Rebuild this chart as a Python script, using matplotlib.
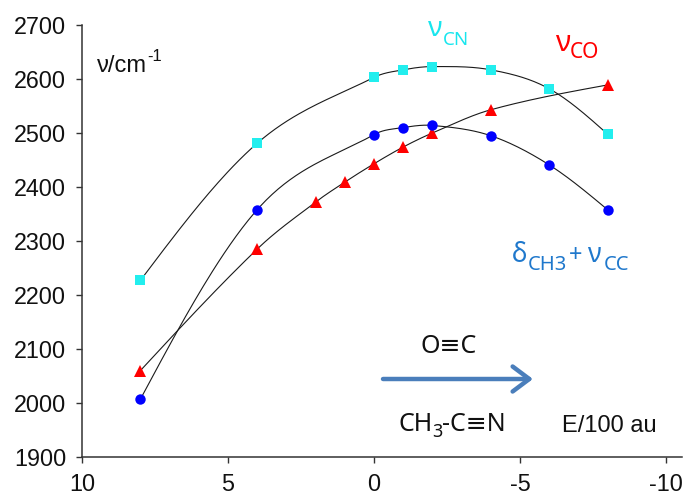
import numpy as np
import matplotlib
matplotlib.use("Agg")
import matplotlib.pyplot as plt

plt.rcParams['axes.unicode_minus'] = False

# Hodnoty odcitane z grafu (E/100 au, frekvencia v cm-1)
e_cn = [8, 4, 0, -1, -2, -4, -6, -8]
nu_cn = [2227, 2481, 2603, 2617, 2623, 2617, 2582, 2498]

e_co = [8, 4, 2, 1, 0, -1, -2, -4, -8]
nu_co = [2060, 2285, 2372, 2409, 2443, 2474, 2500, 2543, 2589]

e_cc = [8, 4, 0, -1, -2, -4, -6, -8]
nu_cc = [2007, 2358, 2497, 2510, 2514, 2495, 2441, 2358]

x_ticks = [10, 5, 0, -5, -10]
y_ticks = [1900, 2000, 2100, 2200, 2300, 2400, 2500, 2600, 2700]

W, H = 683, 497
ARIAL = ['Liberation Sans', 'DejaVu Sans']
CALIBRI = ['Noto Sans', 'DejaVu Sans']


# Hladka krivka cez body (Hermite, sklony z susednych bodov)
def hladka(xs, ys, n=40):
    x = np.asarray(xs, float)
    y = np.asarray(ys, float)
    m = np.empty_like(y)
    m[1:-1] = (y[2:] - y[:-2]) / (x[2:] - x[:-2])
    m[0] = (y[1] - y[0]) / (x[1] - x[0])
    m[-1] = (y[-1] - y[-2]) / (x[-1] - x[-2])
    # koncove sklony trochu ohnute ako pri Exceli
    m[0] = 1.5 * m[0] - 0.5 * m[1]
    m[-1] = 1.5 * m[-1] - 0.5 * m[-2]
    px, py = [], []
    for i in range(len(x) - 1):
        h = x[i + 1] - x[i]
        t = np.linspace(0, 1, n)
        h00 = 2 * t ** 3 - 3 * t ** 2 + 1
        h10 = t ** 3 - 2 * t ** 2 + t
        h01 = -2 * t ** 3 + 3 * t ** 2
        h11 = t ** 3 - t ** 2
        yy = h00 * y[i] + h10 * h * m[i] + h01 * y[i + 1] + h11 * h * m[i + 1]
        px.append(x[i] + t * h)
        py.append(yy)
    return np.concatenate(px), np.concatenate(py)


fig = plt.figure(figsize=(W / 100, H / 100), dpi=100)
ax = fig.add_axes([82 / W, 40 / H, 600 / W, 432 / H])

for xs, ys in [(e_cn, nu_cn), (e_co, nu_co), (e_cc, nu_cc)]:
    sx, sy = hladka(xs, ys)
    ax.plot(sx, sy, color='#1a1a1a', lw=0.8, zorder=2)

ax.plot(e_cn, nu_cn, ls='none', marker='s', ms=7.5, color='#22EEEE', mew=0, zorder=3)
ax.plot(e_co, nu_co, ls='none', marker='^', ms=8.5, color='#FF0000', mew=0, zorder=3)
ax.plot(e_cc, nu_cc, ls='none', marker='o', ms=7.5, color='#0000FF', mew=0, zorder=3)

ax.set_xlim(10, -10.55)
ax.set_ylim(1900, 2700)
ax.set_xticks(x_ticks)
ax.set_xticklabels([str(v) for v in x_ticks])
ax.set_yticks(y_ticks)
for s in ['top', 'right']:
    ax.spines[s].set_visible(False)
for s in ['left', 'bottom']:
    ax.spines[s].set_color('#333333')
    ax.spines[s].set_linewidth(1.1)
ax.tick_params(direction='out', length=4.5, width=1.0, color='#333333', pad=7,
               labelsize=16.8, labelcolor='#111111')
for lab in ax.get_xticklabels() + ax.get_yticklabels():
    lab.set_family(ARIAL)


def txt(x, y, s, size, color='#111111', fam=CALIBRI, ha='left'):
    fig.text(x / W, 1 - y / H, s, fontsize=size, color=color, family=fam,
             ha=ha, va='baseline')


# Popisy osi
txt(97, 72, 'ν/cm', 17, fam=ARIAL)
txt(147, 61, '-1', 12, fam=ARIAL)
txt(562, 432, 'E/100 au', 17, fam=ARIAL)

# nu CN
txt(428, 36, 'ν', 20, color='#18E6EE')
txt(443, 45, 'CN', 13.5, color='#18E6EE')
# nu CO
txt(555, 51, 'ν', 21, color='#FF0000')
txt(570, 58, 'CO', 15, color='#FF0000')
# delta CH3 + nu CC
blue_t = '#1F78CC'
txt(512, 262, 'δ', 19, color=blue_t)
txt(528, 270, 'CH3', 14.5, color=blue_t)
txt(569, 262, '+', 17, color=blue_t)
txt(587, 262, 'ν', 19, color=blue_t)
txt(604, 270, 'CC', 14.5, color=blue_t)

# Molekuly a sipka
txt(449, 353, 'O≡C', 18, ha='center')
txt(398, 431, 'CH', 18)
txt(432, 437, '3', 13)
txt(442, 431, '-C≡N', 18)
ax.annotate('', xy=(533 / W, 1 - 379 / H), xytext=(383 / W, 1 - 379 / H),
            xycoords='figure fraction', textcoords='figure fraction',
            arrowprops=dict(arrowstyle='->,head_length=0.6,head_width=0.45',
                            lw=3.2, color='#4A7EBB', mutation_scale=20,
                            shrinkA=0, shrinkB=0))

fig.savefig('out.png', dpi=100)
